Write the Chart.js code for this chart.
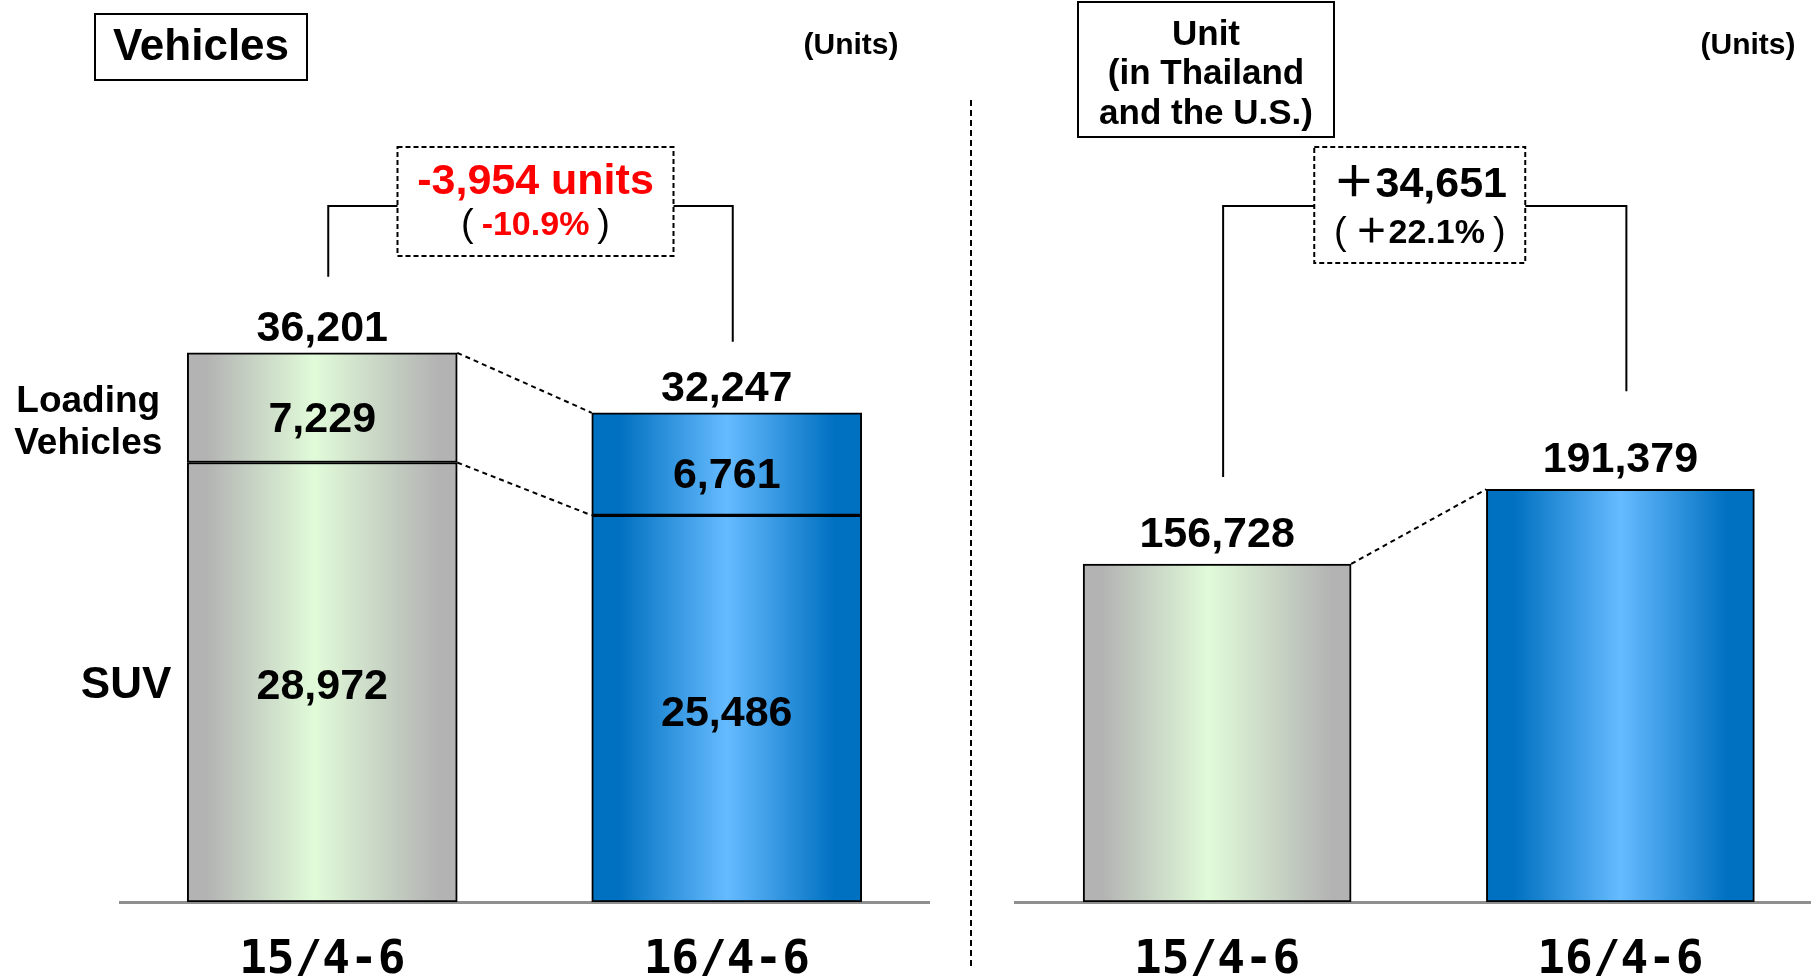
<!DOCTYPE html>
<html>
<head>
<meta charset="utf-8">
<script src="https://cdn.jsdelivr.net/npm/chart.js@4/dist/chart.umd.min.js"></script>
<style>
  html, body { margin: 0; padding: 0; background: #fff; overflow: hidden; }
  #wrap { position: relative; width: 1811px; height: 976px; }
  #left { position: absolute; left: 0; top: 0; }
  #right { position: absolute; left: 970px; top: 0; }
</style>
</head>
<body>
<div id="wrap">
  <canvas id="left" width="976" height="976"></canvas>
  <canvas id="right" width="852" height="976"></canvas>
</div>
<script>
const categories = ['15/4-6', '16/4-6'];
const suvUnits = [28972, 25486];
const loadingUnits = [7229, 6761];
const thaiUsUnits = [156728, 191379];

const FONT = "'Liberation Sans', Arial, 'Noto Sans CJK JP', sans-serif";
const fmt = (n) => Math.abs(n).toLocaleString('en-US');

// grey/green for the older period, blue for the newer one
function barFill(c) {
  const xs = c.chart.scales.x;
  if (!xs || !c.chart.chartArea) return '#b3b3b3';
  const w = c.dataset.barThickness;
  const l = xs.getPixelForValue(c.dataIndex) - w / 2;
  const g = c.chart.ctx.createLinearGradient(l, 0, l + w, 0);
  if (c.dataIndex === 0) {
    g.addColorStop(0, '#b3b3b3');
    g.addColorStop(0.07, '#b3b3b3');
    g.addColorStop(0.47, '#e1fbd9');
    g.addColorStop(0.93, '#b3b3b3');
    g.addColorStop(1, '#b3b3b3');
  } else {
    g.addColorStop(0, '#0070c0');
    g.addColorStop(0.1, '#0070c0');
    g.addColorStop(0.5, '#66bbff');
    g.addColorStop(0.9, '#0070c0');
    g.addColorStop(1, '#0070c0');
  }
  return g;
}

function text(ctx, str, x, y, size, color, align, weight) {
  ctx.save();
  ctx.font = (weight || 'bold') + ' ' + size + 'px ' + FONT;
  ctx.fillStyle = color || '#000';
  ctx.textAlign = align || 'center';
  ctx.textBaseline = 'middle';
  ctx.fillText(str, x, y);
  ctx.restore();
}

function box(ctx, x, y, w, h, dashed) {
  ctx.save();
  ctx.lineWidth = 2;
  ctx.strokeStyle = '#000';
  ctx.fillStyle = '#fff';
  if (dashed) ctx.setLineDash([5, 3]);
  ctx.fillRect(x, y, w, h);
  ctx.strokeRect(x, y, w, h);
  ctx.restore();
}

function line(ctx, pts, dash) {
  ctx.save();
  ctx.lineWidth = 2;
  ctx.strokeStyle = '#000';
  if (dash) ctx.setLineDash(dash);
  ctx.beginPath();
  ctx.moveTo(pts[0][0], pts[0][1]);
  for (let i = 1; i < pts.length; i++) ctx.lineTo(pts[i][0], pts[i][1]);
  ctx.stroke();
  ctx.restore();
}

function barTop(bar) { return Math.min(bar.y, bar.base); }

// bracket with the change box between two bars
function diffBracket(ctx, b0, b1, o) {
  const by = 206;
  const x0 = b0.x + 6, x1 = b1.x + 6;
  const cx = (x0 + x1) / 2 + o.shift;
  line(ctx, [[x0, barTop(b0) - o.drops[0]], [x0, by], [x1, by], [x1, barTop(b1) - o.drops[1]]]);
  box(ctx, cx - o.w / 2, 147, o.w, o.h, true);
  const neg = o.diff < 0;
  const main = (neg ? '-' : '\uFF0B') + fmt(o.diff) + (neg ? ' units' : '');
  text(ctx, main, cx, o.y1, 43, o.color);
  const inner = (neg ? '-' : '\uFF0B') + o.pct;
  ctx.save();
  ctx.font = 'bold 34px ' + FONT;
  const w = ctx.measureText(inner).width;
  ctx.restore();
  text(ctx, inner, cx, o.y2, 34, o.color);
  text(ctx, '(', cx - w / 2 - 8, o.y2, 38, '#000', 'right', 'normal');
  text(ctx, ')', cx + w / 2 + 8, o.y2, 38, '#000', 'left', 'normal');
}

const leftDecor = {
  id: 'leftDecor',
  afterDatasetsDraw(chart) {
    const ctx = chart.ctx;
    const suv = chart.getDatasetMeta(0).data;
    const load = chart.getDatasetMeta(1).data;

    // title
    box(ctx, 95, 14, 212, 66, false);
    text(ctx, 'Vehicles', 201, 48, 44);
    text(ctx, '(Units)', 851, 46, 30);

    // divider between panels
    line(ctx, [[971, 100], [971, 968]], [6, 4]);

    // connectors
    const r0 = suv[0].x + suv[0].width / 2, l1 = suv[1].x - suv[1].width / 2;
    line(ctx, [[r0, load[0].y], [l1, load[1].y]], [5, 4]);
    line(ctx, [[r0, suv[0].y], [l1, suv[1].y]], [5, 4]);

    // values inside segments and totals
    for (let i = 0; i < categories.length; i++) {
      text(ctx, fmt(suvUnits[i]), suv[i].x, (suv[i].y + suv[i].base) / 2 + 5, 43);
      text(ctx, fmt(loadingUnits[i]), load[i].x, (load[i].y + load[i].base) / 2 + 12, 43);
      text(ctx, fmt(suvUnits[i] + loadingUnits[i]), load[i].x, load[i].y - 24, 43);
    }

    // series names
    const lx = suv[0].x - suv[0].width / 2;
    const my = (load[0].y + load[0].base) / 2;
    text(ctx, 'Loading', lx - 99, my - 6, 37);
    text(ctx, 'Vehicles', lx - 99, my + 36, 37);
    text(ctx, 'SUV', lx - 16, (suv[0].y + suv[0].base) / 2 + 4, 44, '#000', 'right');

    const t0 = suvUnits[0] + loadingUnits[0], t1 = suvUnits[1] + loadingUnits[1];
    const d = t1 - t0;
    diffBracket(ctx, load[0], load[1], {
      drops: [76, 71], w: 276, h: 109, shift: 5, y1: 182, y2: 226, diff: d,
      pct: Math.abs(d / t0 * 100).toFixed(1) + '%', color: '#ff0000'
    });
  }
};

const rightDecor = {
  id: 'rightDecor',
  afterDatasetsDraw(chart) {
    const ctx = chart.ctx;
    const bars = chart.getDatasetMeta(0).data;

    box(ctx, 108, 2, 256, 135, false);
    text(ctx, 'Unit', 236, 35, 35);
    text(ctx, '(in Thailand', 236, 74, 35);
    text(ctx, 'and the U.S.)', 236, 114, 35);
    text(ctx, '(Units)', 778, 46, 30);

    const r0 = bars[0].x + bars[0].width / 2, l1 = bars[1].x - bars[1].width / 2;
    line(ctx, [[r0, bars[0].y], [l1, bars[1].y]], [5, 4]);

    for (let i = 0; i < categories.length; i++) {
      text(ctx, fmt(thaiUsUnits[i]), bars[i].x, bars[i].y - 29, 43);
    }

    const d = thaiUsUnits[1] - thaiUsUnits[0];
    diffBracket(ctx, bars[0], bars[1], {
      drops: [87, 98], w: 211, h: 116, shift: -5, y1: 185, y2: 234, diff: d,
      pct: Math.abs(d / thaiUsUnits[0] * 100).toFixed(1) + '%', color: '#000'
    });
  }
};

function xScale() {
  return {
    grid: { display: false, drawTicks: false },
    border: { display: true, color: '#8f8f8f', width: 3 },
    ticks: {
      color: '#000',
      padding: 31,
      font: { family: "'DejaVu Sans Mono', monospace", size: 46, weight: 'bold' }
    },
    afterFit(s) { s.height = 74; }
  };
}

const common = {
  responsive: false,
  animation: false,
  events: [],
  plugins: { legend: { display: false }, tooltip: { enabled: false } }
};

new Chart(document.getElementById('left'), {
  type: 'bar',
  data: {
    labels: categories,
    datasets: [
      { label: 'SUV', data: suvUnits, backgroundColor: barFill, borderColor: '#000',
        borderWidth: 2, borderSkipped: false, barThickness: 270 },
      { label: 'Loading Vehicles', data: loadingUnits, backgroundColor: barFill, borderColor: '#000',
        borderWidth: 2, borderSkipped: false, barThickness: 270 }
    ]
  },
  options: {
    ...common,
    layout: { padding: { left: 120, right: 47, top: 143.5, bottom: 0 } },
    scales: {
      x: { ...xScale(), stacked: true },
      y: { display: false, stacked: true, min: 0, max: 50000 }
    }
  },
  plugins: [leftDecor]
});

new Chart(document.getElementById('right'), {
  type: 'bar',
  data: {
    labels: categories,
    datasets: [
      { label: 'Unit (in Thailand and the U.S.)', data: thaiUsUnits, backgroundColor: barFill,
        borderColor: '#000', borderWidth: 2, borderSkipped: false, barThickness: 268 }
    ]
  },
  options: {
    ...common,
    layout: { padding: { left: 45.5, right: 0, top: 255, bottom: 0 } },
    scales: {
      x: xScale(),
      y: { display: false, min: 0, max: 300000 }
    }
  },
  plugins: [rightDecor]
});
</script>
</body>
</html>
